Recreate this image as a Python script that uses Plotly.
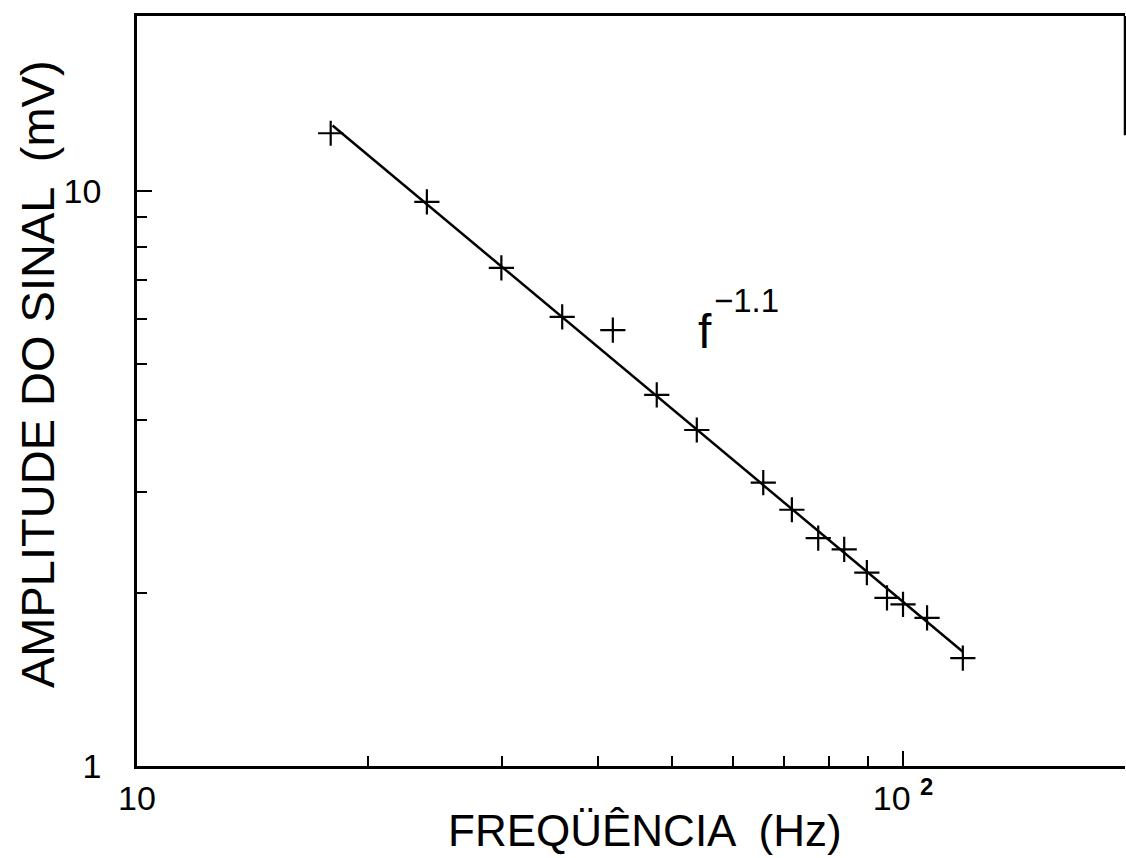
import plotly.graph_objects as go

freq_hz = [17.9, 23.9, 29.9, 35.9, 41.8, 47.7, 53.8, 65.7, 71.6, 77.5, 83.8, 89.7, 95.3, 100.0, 107.5, 119.7]
amp_mv = [12.6, 9.57, 7.35, 6.04, 5.73, 4.42, 3.84, 3.11, 2.79, 2.49, 2.38, 2.17, 1.96, 1.91, 1.81, 1.54]

# Fitted power-law line f^-1.1 (end points)
fit_freq = [18.0, 119.7]
fit_amp = [13.0, 1.58]

x_tickvals = [10, 100]
x_ticktext = ["10", "10 <sup><b>2</b></sup>"]
x_minor = [20, 30, 40, 50, 60, 70, 80, 90]
y_tickvals = [1, 10]
y_ticktext = ["1", "10"]
y_minor = [2, 3, 4, 5, 6, 7, 8, 9]

FONT = "Liberation Sans, Arial, sans-serif"

fig = go.Figure()
fig.add_trace(go.Scatter(
    x=fit_freq, y=fit_amp, mode="lines",
    line=dict(color="black", width=2.5), showlegend=False, hoverinfo="skip"))
fig.add_trace(go.Scatter(
    x=freq_hz, y=amp_mv, mode="markers",
    marker=dict(symbol="cross-thin", size=18, line=dict(color="black", width=2.2)),
    showlegend=False))

fig.update_xaxes(
    type="log", range=[1, 2.2898], showgrid=False, zeroline=False,
    showline=True, linecolor="black", linewidth=2.5, mirror=True,
    ticks="inside", ticklen=15, tickwidth=2, tickcolor="black",
    tickvals=x_tickvals, ticktext=x_ticktext,
    tickfont=dict(family=FONT, size=34, color="black"),
    minor=dict(ticks="inside", ticklen=10, tickwidth=2, tickcolor="black",
               tickvals=x_minor, showgrid=False),
)
fig.update_yaxes(
    type="log", range=[0, 1.3043], showgrid=False, zeroline=False,
    showline=True, linecolor="black", linewidth=2.5, mirror=False,
    ticks="inside", ticklen=15, tickwidth=2, tickcolor="black",
    tickvals=y_tickvals, ticktext=y_ticktext, ticklabelstandoff=26,
    tickfont=dict(family=FONT, size=34, color="black"),
    minor=dict(ticks="inside", ticklen=10, tickwidth=2, tickcolor="black",
               tickvals=y_minor, showgrid=False),
)

# partial right border as in the scanned original
fig.add_shape(type="line", xref="paper", yref="paper", x0=1, x1=1, y0=0.841, y1=1,
              line=dict(color="black", width=2.5))

fig.add_annotation(text="FREQÜÊNCIA  (Hz)", xref="paper", yref="paper",
                   x=(645 - 137) / 988, y=-(830 - 766) / 750, xanchor="center", yanchor="middle",
                   showarrow=False, font=dict(family=FONT, size=44, color="black"))
fig.add_annotation(text="AMPLITUDE DO SINAL  (mV)", xref="paper", yref="paper",
                   x=-(137 - 37) / 988, y=(766 - 374) / 750, xanchor="center", yanchor="middle",
                   textangle=-90, showarrow=False, font=dict(family=FONT, size=47, color="black"))
fig.add_annotation(text="f", x=1.7415, y=0.7548, xref="x", yref="y",
                   xanchor="center", yanchor="middle", showarrow=False,
                   font=dict(family=FONT, size=48, color="black"))
fig.add_annotation(text="−1.1", x=1.7963, y=0.8087, xref="x", yref="y",
                   xanchor="center", yanchor="middle", showarrow=False,
                   font=dict(family=FONT, size=33, color="black"))

fig.update_layout(
    width=1126, height=858,
    margin=dict(l=137, r=1, t=16, b=92),
    paper_bgcolor="white", plot_bgcolor="white",
    font=dict(family=FONT, color="black"),
)

fig.write_html("out.html")
